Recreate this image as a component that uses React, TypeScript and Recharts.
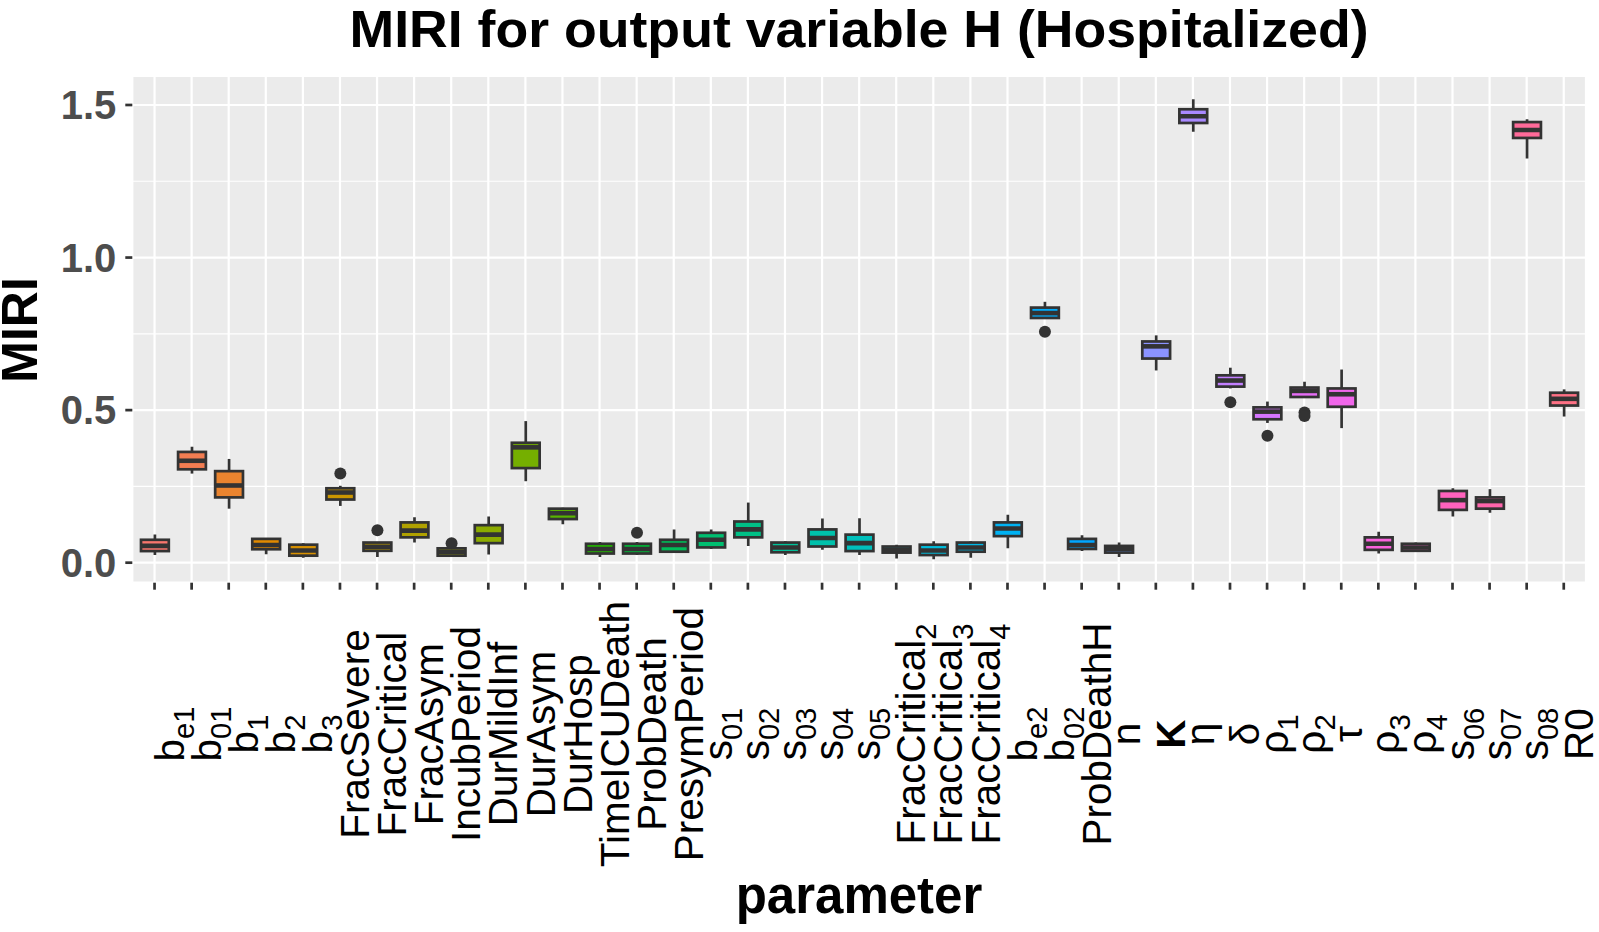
import React from 'react';
import { ComposedChart, Bar, XAxis, YAxis, CartesianGrid } from 'recharts';

// ---------- data ----------
const paramKeys = ['b_e1','b_01','b_1','b_2','b_3','FracSevere','FracCritical','FracAsym','IncubPeriod','DurMildInf','DurAsym','DurHosp','TimeICUDeath','ProbDeath','PresymPeriod','s_01','s_02','s_03','s_04','s_05','FracCritical_2','FracCritical_3','FracCritical_4','b_e2','b_02','ProbDeathH','n','K','eta','delta','rho_1','rho_2','tau','rho_3','rho_4','s_06','s_07','s_08','R0'];
const labelMain = ['b','b','b','b','b','FracSevere','FracCritical','FracAsym','IncubPeriod','DurMildInf','DurAsym','DurHosp','TimeICUDeath','ProbDeath','PresymPeriod','s','s','s','s','s','FracCritical','FracCritical','FracCritical','b','b','ProbDeathH','n','K','η','δ','ρ','ρ','τ','ρ','ρ','s','s','s','R0'];
const labelSub = ['e1','01','1','2','3','','','','','','','','','','','01','02','03','04','05','2','3','4','e2','02','','','','','','1','2','','3','4','06','07','08',''];

const whiskerLow = [0.025,0.292,0.177,0.028,0.016,0.186,0.019,0.066,0.019,0.027,0.267,0.126,0.019,0.025,0.034,0.045,0.055,0.025,0.042,0.025,0.014,0.011,0.016,0.047,0.800,0.038,0.019,0.630,1.412,0.571,0.458,0.543,0.441,0.030,0.036,0.151,0.164,1.325,0.479];
const lowerQ = [0.038,0.306,0.214,0.044,0.023,0.207,0.039,0.083,0.023,0.064,0.310,0.143,0.030,0.030,0.036,0.050,0.083,0.034,0.053,0.038,0.033,0.025,0.036,0.087,0.802,0.045,0.033,0.669,1.441,0.577,0.470,0.543,0.511,0.042,0.039,0.173,0.177,1.392,0.515];
const medianV = [0.055,0.334,0.253,0.058,0.040,0.230,0.052,0.105,0.035,0.092,0.378,0.162,0.045,0.045,0.058,0.075,0.109,0.050,0.081,0.064,0.042,0.040,0.050,0.112,0.818,0.058,0.045,0.709,1.463,0.597,0.495,0.563,0.552,0.062,0.050,0.205,0.202,1.418,0.537];
const upperQ = [0.075,0.363,0.300,0.078,0.059,0.244,0.066,0.132,0.047,0.123,0.393,0.177,0.062,0.062,0.075,0.098,0.135,0.066,0.109,0.092,0.053,0.059,0.066,0.132,0.836,0.078,0.055,0.725,1.486,0.614,0.509,0.574,0.571,0.083,0.062,0.235,0.214,1.444,0.557];
const whiskerHigh = [0.092,0.380,0.340,0.081,0.064,0.252,0.066,0.149,0.047,0.151,0.464,0.180,0.068,0.068,0.109,0.109,0.197,0.070,0.145,0.146,0.059,0.070,0.070,0.157,0.855,0.090,0.066,0.745,1.519,0.639,0.528,0.593,0.633,0.101,0.066,0.244,0.241,1.453,0.568];
// outliers: [parameter index, value]
const outlierPoints: [number, number][] = [[5,0.292],[6,0.106],[8,0.064],[13,0.098],[24,0.757],[29,0.526],[30,0.416],[31,0.492],[31,0.481]];

const yTicks = [0, 0.5, 1.0, 1.5];
const yMinorTicks = [0.25, 0.75, 1.25];

// ---------- colours (ggplot hue palette) ----------
function hcl(h: number, c: number, l: number): string {
  const WY = 100, Wu = 0.1978398, Wv = 0.4683363;
  const hr = (h * Math.PI) / 180;
  const U = c * Math.cos(hr), V = c * Math.sin(hr);
  const Y = WY * (l > 7.999592 ? Math.pow((l + 16) / 116, 3) : l / 903.3);
  const u = U / (13 * l) + Wu;
  const v = V / (13 * l) + Wv;
  const X = (9 * Y * u) / (4 * v);
  const Z = -X / 3 - 5 * Y + (3 * Y) / v;
  const g = (t: number) => {
    t = t / WY;
    const r = t > 0.00304 ? 1.055 * Math.pow(t, 1 / 2.4) - 0.055 : 12.92 * t;
    const n = Math.round(255 * Math.min(1, Math.max(0, r)));
    return n.toString(16).padStart(2, '0');
  };
  return '#' + g(3.240479 * X - 1.53715 * Y - 0.498535 * Z) + g(-0.969256 * X + 1.875992 * Y + 0.041556 * Z) + g(0.055648 * X - 0.204043 * Y + 1.057311 * Z);
}
const nCat = paramKeys.length;
const fills = paramKeys.map((_, i) => hcl(15 + (i * 360) / nCat, 100, 65));

const rows = paramKeys.map((k, i) => ({
  name: k,
  box: [lowerQ[i], upperQ[i]],
  lo: whiskerLow[i],
  q1: lowerQ[i],
  med: medianV[i],
  q3: upperQ[i],
  hi: whiskerHigh[i],
  out: outlierPoints.filter((o) => o[0] === i).map((o) => o[1]),
  fill: fills[i],
}));

// ---------- styling ----------
const FONT = '"Liberation Sans", Arial, Helvetica, sans-serif';
const DARK = '#333333';
const LW = 2.7;
const XFS = 40.5;

const BoxShape = (props: any) => {
  const { x, y, width, height, payload } = props;
  if (payload == null || width == null) return null;
  const top = Math.min(y, y + height);
  const h = Math.abs(height);
  const ppu = h / (payload.q3 - payload.q1);
  const yOf = (v: number) => top + (payload.q3 - v) * ppu;
  const cx = x + width / 2;
  return (
    <g>
      <line x1={cx} x2={cx} y1={yOf(payload.hi)} y2={top} stroke={DARK} strokeWidth={LW} />
      <line x1={cx} x2={cx} y1={top + h} y2={yOf(payload.lo)} stroke={DARK} strokeWidth={LW} />
      <rect x={x} y={top} width={width} height={h} fill={payload.fill} stroke={DARK} strokeWidth={LW} />
      <line x1={x} x2={x + width} y1={yOf(payload.med)} y2={yOf(payload.med)} stroke={DARK} strokeWidth={4.6} />
      {payload.out.map((v: number, j: number) => (
        <circle key={j} cx={cx} cy={yOf(v)} r={6} fill={DARK} />
      ))}
    </g>
  );
};

const XTick = (props: any) => {
  const { x, payload } = props;
  const i = paramKeys.indexOf(payload.value);
  if (i < 0) return null;
  const main = labelMain[i];
  const sub = labelSub[i];
  const tall = /[A-Zbdfhklt0-9δ]/.test(main);
  const bx = x + (tall ? 0.72 : 0.52) * XFS;
  const cy = 734;
  return (
    <text
      x={bx}
      y={cy}
      transform={`rotate(-90 ${bx} ${cy})`}
      textAnchor="middle"
      fontFamily={FONT}
      fontSize={XFS}
      fontWeight={main === 'K' ? 700 : 400}
      fill="#000000"
    >
      {main}
      {sub ? (
        <tspan dy={0.25 * XFS} fontSize={0.72 * XFS}>
          {sub}
        </tspan>
      ) : null}
    </text>
  );
};

export default function App() {
  return (
    <div style={{ position: 'absolute', left: 0, top: 0, width: 1599, height: 932, background: '#ffffff' }}>
      <ComposedChart
        width={1599}
        height={932}
        data={rows}
        margin={{ top: 76, right: 13, bottom: 29.3, left: 32.3 }}
      >
        <CartesianGrid
          horizontalValues={yMinorTicks}
          vertical={false}
          fill="#EBEBEB"
          fillOpacity={1}
          stroke="#FFFFFF"
          strokeWidth={1.1}
        />
        <CartesianGrid stroke="#FFFFFF" strokeWidth={2.2} />
        <XAxis
          dataKey="name"
          type="category"
          interval={0}
          height={320}
          padding={{ left: 3.7, right: 3.7 }}
          axisLine={false}
          tickLine={{ stroke: DARK, strokeWidth: LW }}
          tickSize={7}
          tick={XTick}
        />
        <YAxis
          type="number"
          domain={[-0.0656, 1.595]}
          allowDataOverflow
          ticks={yTicks}
          width={100}
          axisLine={false}
          tickLine={{ stroke: DARK, strokeWidth: LW }}
          tickSize={7}
          tickMargin={9}
          tickFormatter={(v: number) => v.toFixed(1)}
          tick={{ fontSize: 40, fontWeight: 700, fill: '#4D4D4D', fontFamily: FONT }}
        />
        <Bar dataKey="box" barSize={27.8} shape={BoxShape} isAnimationActive={false} />
      </ComposedChart>
      <svg
        width={1599}
        height={932}
        style={{ position: 'absolute', left: 0, top: 0, pointerEvents: 'none' }}
      >
        <text x={859} y={47} textAnchor="middle" fontFamily={FONT} fontSize={52} fontWeight={700} fill="#000" textLength={1019} lengthAdjust="spacingAndGlyphs">
          MIRI for output variable H (Hospitalized)
        </text>
        <text x={37} y={330} transform="rotate(-90 37 330)" textAnchor="middle" fontFamily={FONT} fontSize={50} fontWeight={700} fill="#000">
          MIRI
        </text>
        <text x={859} y={913} textAnchor="middle" fontFamily={FONT} fontSize={51} fontWeight={700} fill="#000">
          parameter
        </text>
      </svg>
    </div>
  );
}
